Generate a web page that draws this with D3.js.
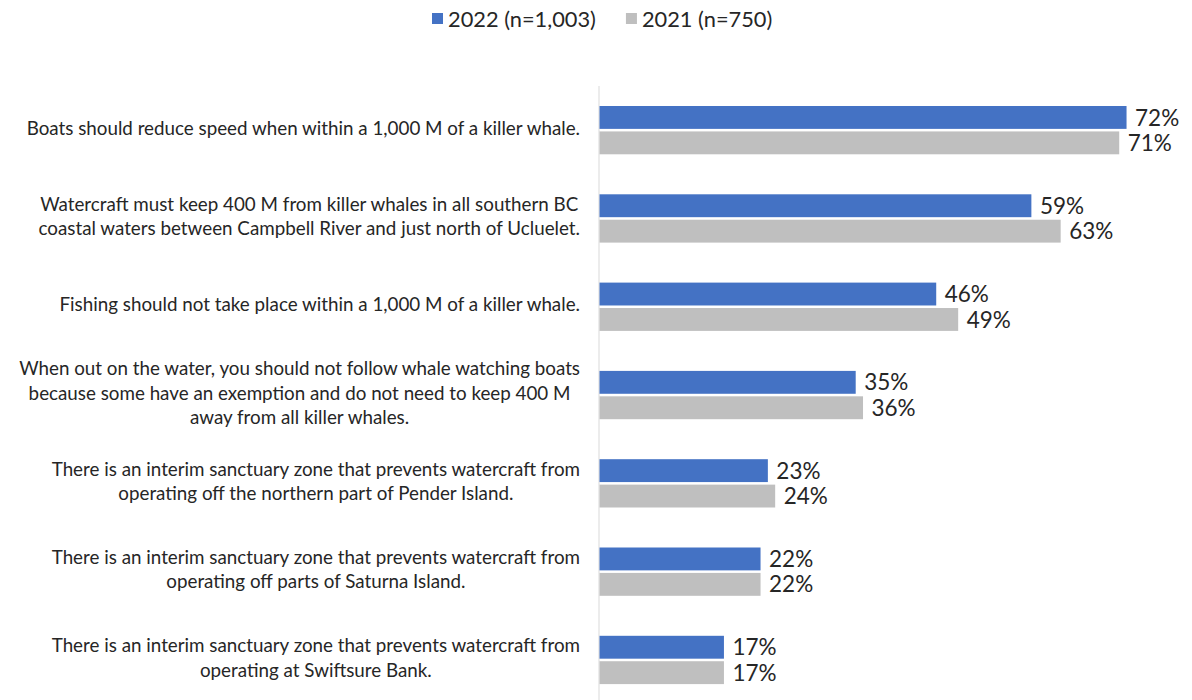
<!DOCTYPE html>
<html><head><meta charset="utf-8">
<script src="https://cdn.jsdelivr.net/npm/d3@7"></script>
<style>body{margin:0;background:#fff;} svg{display:block;}</style>
</head><body>
<div id="chart"></div>
<script>
const categories = [
  ["Boats should reduce speed when within a 1,000 M of a killer whale."],
  ["Watercraft must keep 400 M from killer whales in all southern BC", "coastal waters between Campbell River and just north of Ucluelet."],
  ["Fishing should not take place within a 1,000 M of a killer whale."],
  ["When out on the water, you should not follow whale watching boats", "because some have an exemption and do not need to keep 400 M", "away from all killer whales."],
  ["There is an interim sanctuary zone that prevents watercraft from", "operating off the northern part of Pender Island."],
  ["There is an interim sanctuary zone that prevents watercraft from", "operating off parts of Saturna Island."],
  ["There is an interim sanctuary zone that prevents watercraft from", "operating at Swiftsure Bank."]
];
const seriesNames = ["2022 (n=1,003)", "2021 (n=750)"];
const values2022 = [72, 59, 46, 35, 23, 22, 17];
const values2021 = [71, 63, 49, 36, 24, 22, 17];
const colors = ["#4472C4", "#BFBFBF"];

const W = 1192, H = 700;
const svg = d3.select("#chart").append("svg").attr("width", W).attr("height", H);
const font = "Lato, 'Open Sans', sans-serif";

const x = d3.scaleLinear().domain([0, 100]).range([599, 599 + 732]);
const y = d3.scaleBand().domain(d3.range(categories.length)).range([86, 86 + 7 * 88.3]);
const inner = d3.scaleBand().domain([0, 1]).range([20, 68.3]).paddingInner(0.1);

const series = [values2022, values2021];

// axis line
svg.append("line").attr("x1", x(0)).attr("x2", x(0)).attr("y1", y.range()[0]).attr("y2", H)
  .attr("stroke", "#d9d9d9").attr("stroke-width", 1);

series.forEach((vals, si) => {
  const g = svg.append("g");
  g.selectAll("rect").data(vals).join("rect")
    .attr("x", x(0) + 0.5)
    .attr("y", (d, i) => y(i) + inner(si))
    .attr("width", d => x(d) - x(0))
    .attr("height", inner.bandwidth())
    .attr("fill", colors[si]);
  g.selectAll("text").data(vals).join("text")
    .attr("x", d => x(d) + 9)
    .attr("y", (d, i) => y(i) + inner(si) + inner.bandwidth() / 2)
    .attr("dy", "0.36em")
    .attr("font-family", font).attr("font-size", 22.5).attr("fill", "#262626")
    .text(d => d + "%");
});

// category labels
const lineH = 24.5;
categories.forEach((lines, i) => {
  const cy = y(i) + y.bandwidth() / 2 - 2;
  const g = svg.append("g");
  const texts = lines.map((ln, j) => g.append("text")
    .attr("y", cy + (j - (lines.length - 1) / 2) * lineH)
    .attr("dy", "0.35em")
    .attr("text-anchor", "middle")
    .attr("font-family", font).attr("font-size", 18.8).attr("fill", "#262626")
    .text(ln));
  const maxW = d3.max(texts, t => t.node().getComputedTextLength());
  texts.forEach(t => t.attr("x", 580 - maxW / 2));
});

// legend
const legend = svg.append("g");
let lx = 432;
seriesNames.forEach((name, i) => {
  legend.append("rect").attr("x", lx).attr("y", 13).attr("width", 11).attr("height", 11).attr("fill", colors[i]);
  const t = legend.append("text").attr("x", lx + 16).attr("y", 19).attr("dy", "0.36em")
    .attr("font-family", font).attr("font-size", 21.8).attr("fill", "#262626").text(name);
  lx += 16 + t.node().getComputedTextLength() + 30;
});
</script>
</body></html>
